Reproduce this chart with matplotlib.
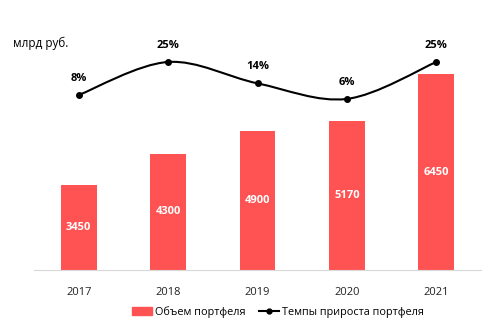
import matplotlib.pyplot as plt
from matplotlib.path import Path
from matplotlib.patches import PathPatch
from matplotlib.lines import Line2D
from matplotlib.patches import Patch

plt.rcParams["font.family"] = ["Open Sans", "DejaVu Sans"]

# Data
years = ["2017", "2018", "2019", "2020", "2021"]
volume = [3450, 4300, 4900, 5170, 6450]
growth = [8, 25, 14, 6, 25]

bar_color = "#FF5252"

fig = plt.figure(figsize=(4.94, 3.36), dpi=100)
ax = fig.add_axes([34 / 494, 66 / 336, 447 / 494, 230 / 336])
x = list(range(len(years)))

ax.bar(x, volume, width=0.4, color=bar_color, zorder=2)
ax.set_ylim(1150, 7370)
ax.set_xlim(-0.5, len(years) - 0.5)

for xi, v in zip(x, volume):
    ax.text(xi, (v + 1150) / 2, str(v), ha="center", va="center",
            color="white", fontsize=8, fontweight="bold")

for side in ["top", "right", "left"]:
    ax.spines[side].set_visible(False)
ax.spines["bottom"].set_color("#D9D9D9")
ax.set_yticks([])
ax.set_xticks(x)
ax.set_xticklabels(years, fontsize=8, color="#222222")
ax.tick_params(axis="x", length=0, pad=12)

# Growth line on secondary axis, smoothed like Excel
ax2 = ax.twinx()
ax2.set_ylim(-82, 36.3)
ax2.axis("off")

verts = [(x[0], growth[0])]
codes = [Path.MOVETO]
n = len(x)
for i in range(n - 1):
    p0 = (x[max(i - 1, 0)], growth[max(i - 1, 0)])
    p1 = (x[i], growth[i])
    p2 = (x[i + 1], growth[i + 1])
    p3 = (x[min(i + 2, n - 1)], growth[min(i + 2, n - 1)])
    c1 = (p1[0] + (p2[0] - p0[0]) / 6, p1[1] + (p2[1] - p0[1]) / 6)
    c2 = (p2[0] - (p3[0] - p1[0]) / 6, p2[1] - (p3[1] - p1[1]) / 6)
    verts += [c1, c2, p2]
    codes += [Path.CURVE4] * 3
ax2.add_patch(PathPatch(Path(verts, codes), facecolor="none",
                        edgecolor="black", lw=1.5, zorder=3))
ax2.plot(x, growth, "o", color="black", markersize=4, zorder=4)

for xi, g in zip(x, growth):
    ax2.annotate(f"{g}%", (xi, g), xytext=(0, 8), textcoords="offset points",
                 ha="center", va="bottom", fontsize=8, fontweight="bold")

fig.text(13 / 494, 1 - 43 / 336, "млрд руб.", fontsize=8.5,
         ha="left", va="center")

handles = [
    Patch(color=bar_color, label="Объем портфеля"),
    Line2D([0], [0], color="black", lw=1.5, marker="o", markersize=3.5,
           label="Темпы прироста портфеля"),
]
fig.legend(handles=handles, loc="center", bbox_to_anchor=(278 / 494, 1 - 312 / 336),
           ncol=2, frameon=False, fontsize=7.8, handlelength=1.8,
           handletextpad=0.3, columnspacing=1.3)

fig.savefig("out.png", dpi=100)
